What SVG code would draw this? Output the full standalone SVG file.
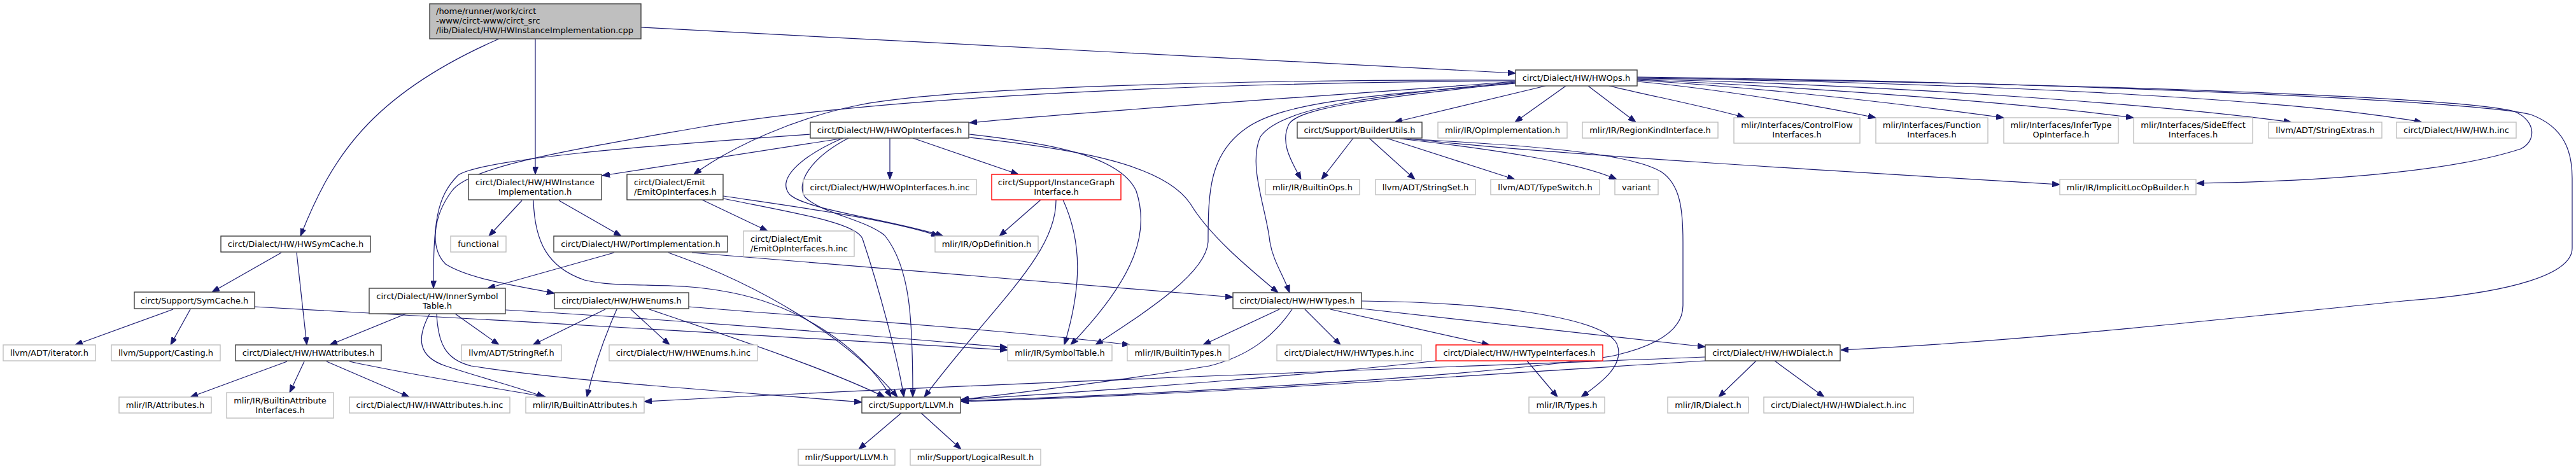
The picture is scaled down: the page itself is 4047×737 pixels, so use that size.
<svg xmlns="http://www.w3.org/2000/svg" width="4047" height="737" viewBox="0 0 4047 737">
<style>
rect{fill:#fff;stroke:#404040;stroke-width:1.4}
.g rect{stroke:#bfbfbf}
.r rect{stroke:#ff0000}
.root rect{fill:#bfbfbf}
text{font-family:"DejaVu Sans","Liberation Sans",sans-serif;font-size:13px;fill:#000;text-anchor:middle}
text.l{text-anchor:start}
#edges path{fill:none;stroke:#191970;stroke-width:1.2;marker-end:url(#a)}
</style>
<defs>
<marker id="a" markerUnits="userSpaceOnUse" markerWidth="12" markerHeight="9" viewBox="0 0 12 9" refX="12" refY="4.5" orient="auto"><path d="M0,0 L12,4.5 L0,9 z" fill="#191970" stroke="#191970"/></marker>
</defs>
<rect x="0" y="0" width="4047" height="737" style="fill:#fff;stroke:none"/>
<g id="edges">
<path d="M1007,43 L2381,115"/>
<path d="M784,61 C580,150 520,250 472,371"/>
<path d="M841,61 L841,274"/>
<path d="M2428,135 L2191,192"/>
<path d="M2460,135 L2380,192"/>
<path d="M2495,135 L2570,192"/>
<path d="M2528,135 C2600,152 2700,172 2741,185"/>
<path d="M2572,128 C2700,140 2850,165 2947,185"/>
<path d="M2572,126 C2800,140 3000,165 3148,185"/>
<path d="M2572,125 C2900,140 3200,165 3352,185"/>
<path d="M2572,124 C3000,135 3400,165 3600,192"/>
<path d="M2572,123 C3100,130 3600,155 3805,192"/>
<path d="M2572,122 C3200,130 3850,150 3950,175 C3985,190 3985,222 3960,234 C3850,270 3650,285 3451,288"/>
<path d="M2572,121 C3300,130 3900,160 3976,180 C4030,200 4041,240 4041,280 L4041,390 C4041,430 3950,460 3776,473 C3500,500 3200,535 2892,550"/>
<path d="M2381,128 C2100,150 1700,175 1523,193"/>
<path d="M2381,126 C2000,125 1500,135 1350,165 C1250,185 1150,230 1090,274"/>
<path d="M2381,127 C1900,130 1400,150 1100,200 C900,235 740,260 710,300 C680,340 675,390 700,415 C740,440 820,450 871,461"/>
<path d="M1273,211 C1000,230 760,250 720,275 C685,310 681,350 681,453"/>
<path d="M1320,218 L946,276"/>
<path d="M1398,217 L1398,282"/>
<path d="M1434,217 L1600,274"/>
<path d="M1324,217 C1260,245 1220,280 1240,305 C1265,330 1400,345 1482,371"/>
<path d="M1333,217 C1270,250 1250,290 1265,310 C1290,335 1360,345 1390,370 C1430,420 1434,500 1434,624"/>
<path d="M1523,211 C1650,225 1760,245 1785,300 C1805,360 1790,430 1682,542"/>
<path d="M1523,216 C1700,235 1830,260 1870,320 C1900,370 1960,420 2008,460"/>
<path d="M2381,131 C2150,150 2020,160 1960,200 C1900,240 1898,300 1898,380 C1895,430 1800,490 1721,542"/>
<path d="M2381,129 C2150,150 2010,170 1980,215 C1960,260 1990,330 1995,380 C2000,410 2015,430 2026,460"/>
<path d="M2381,130 C2150,155 2040,170 2025,195 C2010,225 2030,255 2044,282"/>
<path d="M2126,217 L2076,282"/>
<path d="M2151,217 L2223,282"/>
<path d="M2178,217 L2380,282"/>
<path d="M2200,218 C2350,235 2480,255 2540,282"/>
<path d="M2215,218 C2400,240 2900,270 3236,290"/>
<path d="M2205,218 C2400,228 2560,240 2610,270 C2640,290 2644,330 2644,380 L2644,480 C2644,520 2600,545 2530,560 C2300,595 1800,620 1510,630"/>
<path d="M1103,314 L1206,363"/>
<path d="M1136,308 C1250,325 1400,345 1475,371"/>
<path d="M1136,312 C1250,335 1345,350 1355,375 C1380,450 1410,560 1420,624"/>
<path d="M820,315 L768,371"/>
<path d="M878,315 L976,371"/>
<path d="M838,315 C840,380 860,420 918,440 C980,455 1050,440 1150,460 C1250,480 1350,540 1400,624"/>
<path d="M965,397 L766,453"/>
<path d="M1087,397 L1937,467"/>
<path d="M1050,397 C1200,450 1330,530 1410,624"/>
<path d="M1635,314 L1570,371"/>
<path d="M1659,314 C1660,400 1560,480 1452,624"/>
<path d="M1670,314 C1700,380 1700,450 1672,542"/>
<path d="M442,397 L333,459"/>
<path d="M466,397 L482,542"/>
<path d="M272,486 L118,542"/>
<path d="M299,486 L268,542"/>
<path d="M400,482 C800,505 1300,530 1583,550"/>
<path d="M638,493 L518,542"/>
<path d="M715,493 L784,542"/>
<path d="M675,493 C655,530 655,560 700,575 C760,595 820,610 855,624"/>
<path d="M686,493 C688,540 700,565 740,575 C900,600 1150,615 1354,632"/>
<path d="M794,487 C1100,505 1400,530 1583,546"/>
<path d="M451,568 L299,624"/>
<path d="M478,568 L455,617"/>
<path d="M513,568 L643,624"/>
<path d="M549,568 C650,590 780,610 858,624"/>
<path d="M951,486 L837,542"/>
<path d="M969,486 C945,540 930,590 922,624"/>
<path d="M991,486 L1052,542"/>
<path d="M1082,482 C1300,500 1600,520 1775,542"/>
<path d="M1020,486 C1150,530 1300,580 1390,624"/>
<path d="M2050,486 L2106,542"/>
<path d="M2090,486 L2340,542"/>
<path d="M2010,486 L1890,542"/>
<path d="M2030,486 C2000,530 1960,560 1900,575 C1750,600 1600,617 1510,628"/>
<path d="M2139,473 C2350,475 2520,500 2540,540 C2555,575 2510,605 2484,624"/>
<path d="M2139,485 L2679,545"/>
<path d="M2399,567 L2447,624"/>
<path d="M2256,567 C2100,585 1800,610 1510,628"/>
<path d="M2759,567 L2700,624"/>
<path d="M2788,567 L2866,624"/>
<path d="M2679,561 C2200,580 1600,600 1012,631"/>
<path d="M2679,567 C2300,590 1900,620 1510,631"/>
<path d="M1416,649 L1349,706"/>
<path d="M1447,649 L1510,706"/>
</g>
<g id="n0" class="root"><rect x="675" y="6" width="332" height="55"/><text class="l" x="685" y="22">/home/runner/work/circt</text><text class="l" x="685" y="37">-www/circt-www/circt_src</text><text class="l" x="685" y="52">/lib/Dialect/HW/HWInstanceImplementation.cpp</text></g>
<g id="n1"><rect x="2381" y="110" width="191" height="25"/><text x="2476.5" y="127">circt/Dialect/HW/HWOps.h</text></g>
<g id="n2"><rect x="347" y="371" width="235" height="25"/><text x="464.5" y="388">circt/Dialect/HW/HWSymCache.h</text></g>
<g id="n3"><rect x="736" y="274" width="209" height="40"/><text x="840.5" y="290.5">circt/Dialect/HW/HWInstance</text><text x="840.5" y="305.5">Implementation.h</text></g>
<g id="n4"><rect x="2038" y="192" width="196" height="25"/><text x="2136" y="209">circt/Support/BuilderUtils.h</text></g>
<g id="n5" class="g"><rect x="2259" y="192" width="203" height="25"/><text x="2360.5" y="209">mlir/IR/OpImplementation.h</text></g>
<g id="n6" class="g"><rect x="2486" y="192" width="213" height="25"/><text x="2592.5" y="209">mlir/IR/RegionKindInterface.h</text></g>
<g id="n7" class="g"><rect x="2724" y="185" width="198" height="40"/><text x="2823" y="201">mlir/Interfaces/ControlFlow</text><text x="2823" y="216">Interfaces.h</text></g>
<g id="n8" class="g"><rect x="2947" y="185" width="176" height="40"/><text x="3035" y="201">mlir/Interfaces/Function</text><text x="3035" y="216">Interfaces.h</text></g>
<g id="n9" class="g"><rect x="3148" y="185" width="180" height="40"/><text x="3238" y="201">mlir/Interfaces/InferType</text><text x="3238" y="216">OpInterface.h</text></g>
<g id="n10" class="g"><rect x="3352" y="185" width="187" height="40"/><text x="3445.5" y="201">mlir/Interfaces/SideEffect</text><text x="3445.5" y="216">Interfaces.h</text></g>
<g id="n11" class="g"><rect x="3564" y="192" width="178" height="25"/><text x="3653" y="209">llvm/ADT/StringExtras.h</text></g>
<g id="n12" class="g"><rect x="3765" y="192" width="188" height="25"/><text x="3859" y="209">circt/Dialect/HW/HW.h.inc</text></g>
<g id="n13"><rect x="1273" y="192" width="249" height="25"/><text x="1397.5" y="209">circt/Dialect/HW/HWOpInterfaces.h</text></g>
<g id="n14" class="g"><rect x="1262" y="282" width="272" height="24"/><text x="1398" y="298.5">circt/Dialect/HW/HWOpInterfaces.h.inc</text></g>
<g id="n15" class="r"><rect x="1558" y="274" width="203" height="40"/><text x="1659.5" y="290.5">circt/Support/InstanceGraph</text><text x="1659.5" y="305.5">Interface.h</text></g>
<g id="n16"><rect x="985" y="274" width="151" height="40"/><text class="l" x="996" y="290.5">circt/Dialect/Emit</text><text class="l" x="996" y="305.5">/EmitOpInterfaces.h</text></g>
<g id="n17" class="g"><rect x="1168" y="363" width="174" height="40"/><text class="l" x="1179" y="379.5">circt/Dialect/Emit</text><text class="l" x="1179" y="394.5">/EmitOpInterfaces.h.inc</text></g>
<g id="n18" class="g"><rect x="708" y="371" width="87" height="25"/><text x="751.5" y="388">functional</text></g>
<g id="n19"><rect x="870" y="371" width="273" height="25"/><text x="1006.5" y="388">circt/Dialect/HW/PortImplementation.h</text></g>
<g id="n20" class="g"><rect x="1469" y="371" width="162" height="25"/><text x="1550" y="388">mlir/IR/OpDefinition.h</text></g>
<g id="n21" class="g"><rect x="1988" y="282" width="148" height="24"/><text x="2062" y="298.5">mlir/IR/BuiltinOps.h</text></g>
<g id="n22" class="g"><rect x="2161" y="282" width="157" height="24"/><text x="2239.5" y="298.5">llvm/ADT/StringSet.h</text></g>
<g id="n23" class="g"><rect x="2342" y="282" width="171" height="24"/><text x="2427.5" y="298.5">llvm/ADT/TypeSwitch.h</text></g>
<g id="n24" class="g"><rect x="2537" y="282" width="68" height="24"/><text x="2571" y="298.5">variant</text></g>
<g id="n25" class="g"><rect x="3236" y="282" width="214" height="24"/><text x="3343" y="298.5">mlir/IR/ImplicitLocOpBuilder.h</text></g>
<g id="n26"><rect x="211" y="459" width="189" height="26"/><text x="305.5" y="476.5">circt/Support/SymCache.h</text></g>
<g id="n27"><rect x="580" y="453" width="214" height="40"/><text x="687" y="469.5">circt/Dialect/HW/InnerSymbol</text><text x="687" y="484.5">Table.h</text></g>
<g id="n28"><rect x="871" y="460" width="211" height="25"/><text x="976.5" y="477">circt/Dialect/HW/HWEnums.h</text></g>
<g id="n29"><rect x="1937" y="460" width="202" height="25"/><text x="2038" y="477">circt/Dialect/HW/HWTypes.h</text></g>
<g id="n30" class="g"><rect x="5" y="542" width="145" height="25"/><text x="77.5" y="559">llvm/ADT/iterator.h</text></g>
<g id="n31" class="g"><rect x="175" y="542" width="171" height="25"/><text x="260.5" y="559">llvm/Support/Casting.h</text></g>
<g id="n32"><rect x="370" y="542" width="229" height="25"/><text x="484.5" y="559">circt/Dialect/HW/HWAttributes.h</text></g>
<g id="n33" class="g"><rect x="725" y="542" width="157" height="25"/><text x="803.5" y="559">llvm/ADT/StringRef.h</text></g>
<g id="n34" class="g"><rect x="957" y="542" width="233" height="25"/><text x="1073.5" y="559">circt/Dialect/HW/HWEnums.h.inc</text></g>
<g id="n35" class="g"><rect x="1583" y="542" width="164" height="25"/><text x="1665" y="559">mlir/IR/SymbolTable.h</text></g>
<g id="n36" class="g"><rect x="1771" y="542" width="160" height="25"/><text x="1851" y="559">mlir/IR/BuiltinTypes.h</text></g>
<g id="n37" class="g"><rect x="2006" y="542" width="227" height="25"/><text x="2119.5" y="559">circt/Dialect/HW/HWTypes.h.inc</text></g>
<g id="n38" class="r"><rect x="2256" y="542" width="262" height="25"/><text x="2387" y="559">circt/Dialect/HW/HWTypeInterfaces.h</text></g>
<g id="n39"><rect x="2679" y="542" width="212" height="25"/><text x="2785" y="559">circt/Dialect/HW/HWDialect.h</text></g>
<g id="n40" class="g"><rect x="187" y="624" width="145" height="25"/><text x="259.5" y="641">mlir/IR/Attributes.h</text></g>
<g id="n41" class="g"><rect x="356" y="617" width="168" height="40"/><text x="440" y="633.5">mlir/IR/BuiltinAttribute</text><text x="440" y="648.5">Interfaces.h</text></g>
<g id="n42" class="g"><rect x="549" y="624" width="252" height="25"/><text x="675" y="641">circt/Dialect/HW/HWAttributes.h.inc</text></g>
<g id="n43" class="g"><rect x="826" y="624" width="186" height="25"/><text x="919" y="641">mlir/IR/BuiltinAttributes.h</text></g>
<g id="n44"><rect x="1354" y="624" width="155" height="25"/><text x="1431.5" y="641">circt/Support/LLVM.h</text></g>
<g id="n45" class="g"><rect x="2402" y="624" width="119" height="25"/><text x="2461.5" y="641">mlir/IR/Types.h</text></g>
<g id="n46" class="g"><rect x="2620" y="624" width="127" height="25"/><text x="2683.5" y="641">mlir/IR/Dialect.h</text></g>
<g id="n47" class="g"><rect x="2771" y="624" width="235" height="25"/><text x="2888.5" y="641">circt/Dialect/HW/HWDialect.h.inc</text></g>
<g id="n48" class="g"><rect x="1254" y="706" width="152" height="25"/><text x="1330" y="723">mlir/Support/LLVM.h</text></g>
<g id="n49" class="g"><rect x="1430" y="706" width="205" height="25"/><text x="1532.5" y="723">mlir/Support/LogicalResult.h</text></g>
</svg>
